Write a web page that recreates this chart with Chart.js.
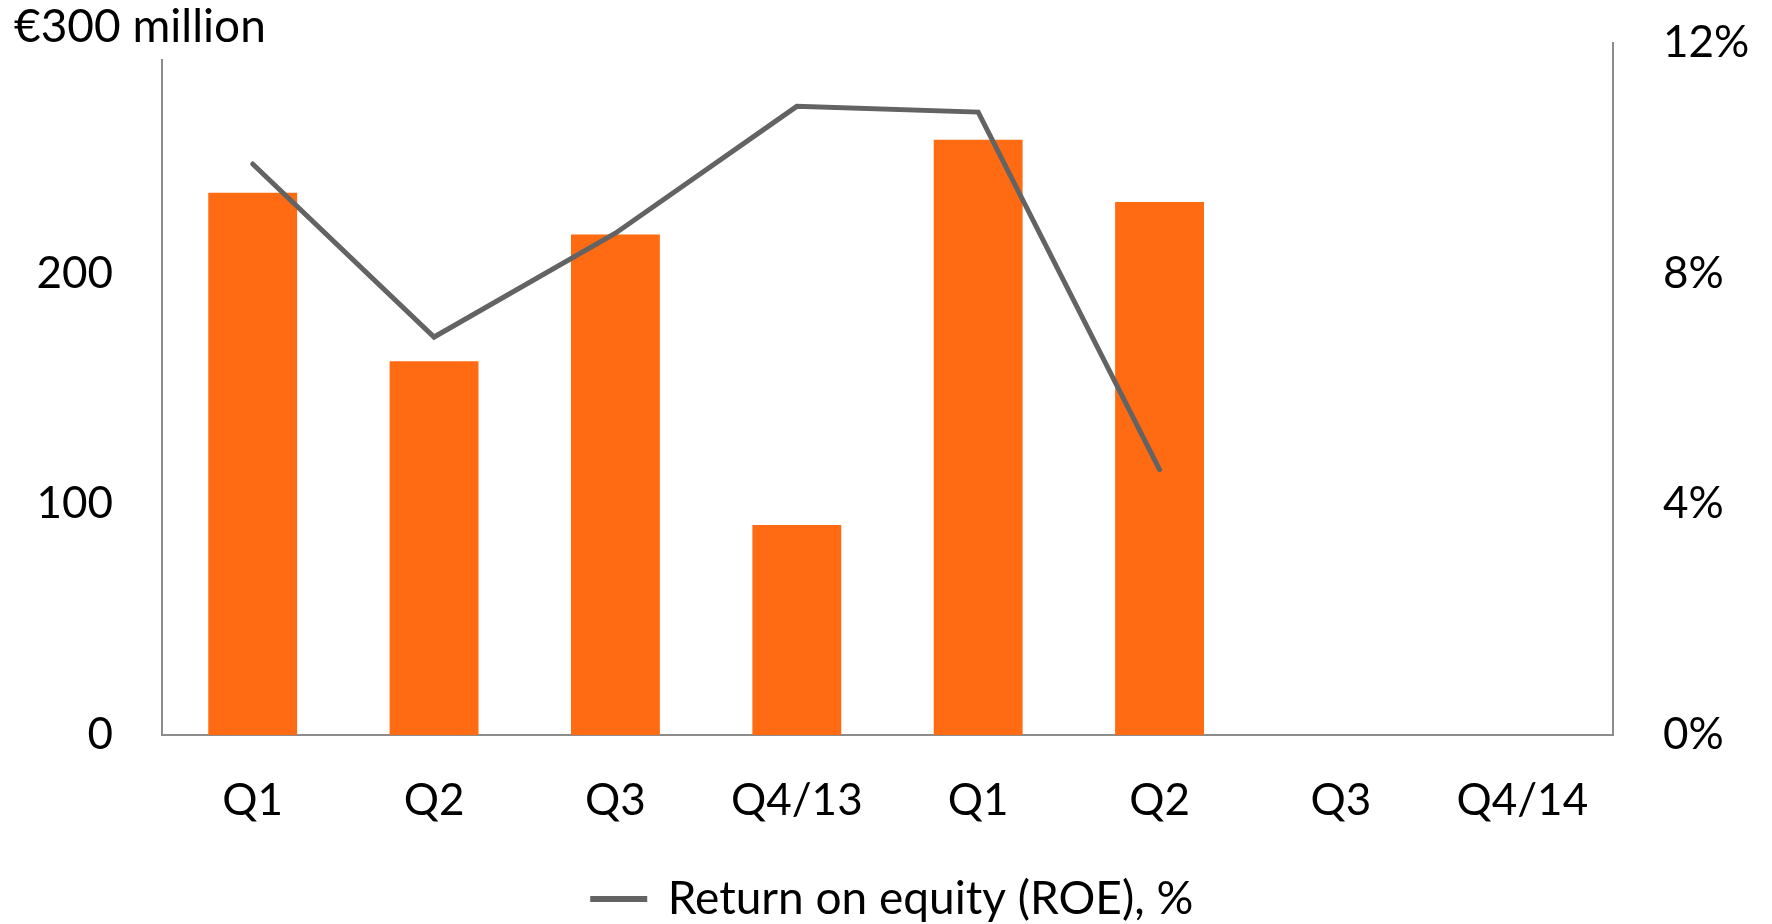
<!DOCTYPE html>
<html>
<head>
<meta charset="utf-8">
<script src="https://cdn.jsdelivr.net/npm/chart.js@4"></script>
<style>
  html, body { margin: 0; padding: 0; background: #fff; }
  #wrap { width: 1772px; height: 924px; }
</style>
</head>
<body>
<div id="wrap"><canvas id="roeChart"></canvas></div>
<script>
// Квартальные данные: прибыль (столбцы, левая ось) и ROE (линия, правая ось)
const quarters = ['Q1', 'Q2', 'Q3', 'Q4/13', 'Q1', 'Q2', 'Q3', 'Q4/14'];
const profitValues = [235, 162, 217, 91, 258, 231, null, null];
const roeValues = [9.9, 6.9, 8.7, 10.9, 10.8, 4.6, null, null];
const leftTicks = [0, 100, 200, 300];
const rightTicks = [0, 4, 8, 12];

const ORANGE = '#ff6b12';
const GREY_LINE = '#636363';
const AXIS = '#8c8c8c';
const FONT = { family: 'Lato, "Open Sans", sans-serif', size: 44 };

// левая ось в оригинале начинается чуть ниже верхней отметки
const leftAxisLine = {
  id: 'leftAxisLine',
  beforeDatasetsDraw(chart) {
    const { ctx, chartArea } = chart;
    ctx.save();
    ctx.strokeStyle = AXIS;
    ctx.lineWidth = 2;
    ctx.beginPath();
    ctx.moveTo(chartArea.left, chartArea.top + 16);
    ctx.lineTo(chartArea.left, chartArea.bottom);
    ctx.stroke();
    ctx.restore();
  },
};

// большой отступ подписей не должен сдвигать область графика вниз
function fixYAxis(width) {
  return (scale) => {
    scale.width = width;
    scale.paddingTop = 0;
    scale.paddingBottom = 0;
  };
}

const ctx = document.getElementById('roeChart').getContext('2d');

new Chart(ctx, {
  type: 'bar',
  data: {
    labels: quarters,
    datasets: [
      {
        type: 'line',
        label: 'Return on equity (ROE), %',
        data: roeValues,
        yAxisID: 'yRight',
        borderColor: GREY_LINE,
        backgroundColor: GREY_LINE,
        borderWidth: 5,
        borderCapStyle: 'round',
        borderJoinStyle: 'miter',
        pointRadius: 0,
        tension: 0,
        spanGaps: false,
        order: 1,
      },
      {
        type: 'bar',
        label: 'Profit',
        data: profitValues,
        yAxisID: 'yLeft',
        backgroundColor: ORANGE,
        barPercentage: 0.49,
        categoryPercentage: 1,
        order: 2,
      },
    ],
  },
  options: {
    responsive: true,
    maintainAspectRatio: false,
    animation: false,
    layout: { padding: { left: 14, right: 0, top: 0, bottom: 0 } },
    plugins: {
      tooltip: { enabled: false },
      title: {
        display: true,
        text: '€300 million',
        align: 'start',
        color: '#000',
        font: { ...FONT, size: 46, weight: 'normal', lineHeight: 0.65 },
        padding: { top: 12, bottom: 1 },
      },
      legend: {
        position: 'bottom',
        maxHeight: 58,
        labels: {
          color: '#000',
          font: { ...FONT, size: 46 },
          boxWidth: 52,
          boxHeight: 1,
          padding: 10,
          filter: (item) => item.datasetIndex === 0,
        },
      },
    },
    scales: {
      x: {
        grid: { display: false, drawTicks: false },
        border: { display: true, color: AXIS, width: 2 },
        ticks: { color: '#000', font: FONT, padding: 39, maxRotation: 0 },
        afterFit: (scale) => { scale.height = 131; },
      },
      yLeft: {
        position: 'left',
        min: leftTicks[0],
        max: leftTicks[leftTicks.length - 1],
        grid: { display: false, drawTicks: false },
        border: { display: false },
        ticks: {
          color: '#000',
          font: FONT,
          padding: 49,
          stepSize: 100,
          callback: (v) => (v === 300 ? '' : v),
        },
        afterFit: fixYAxis(148),
      },
      yRight: {
        position: 'right',
        min: rightTicks[0],
        max: rightTicks[rightTicks.length - 1],
        grid: { display: false, drawTicks: false },
        border: { display: true, color: AXIS, width: 2 },
        ticks: {
          color: '#000',
          font: FONT,
          padding: 50,
          stepSize: 4,
          callback: (v) => v + '%',
        },
        afterFit: fixYAxis(159),
      },
    },
  },
  plugins: [leftAxisLine],
});
</script>
</body>
</html>
